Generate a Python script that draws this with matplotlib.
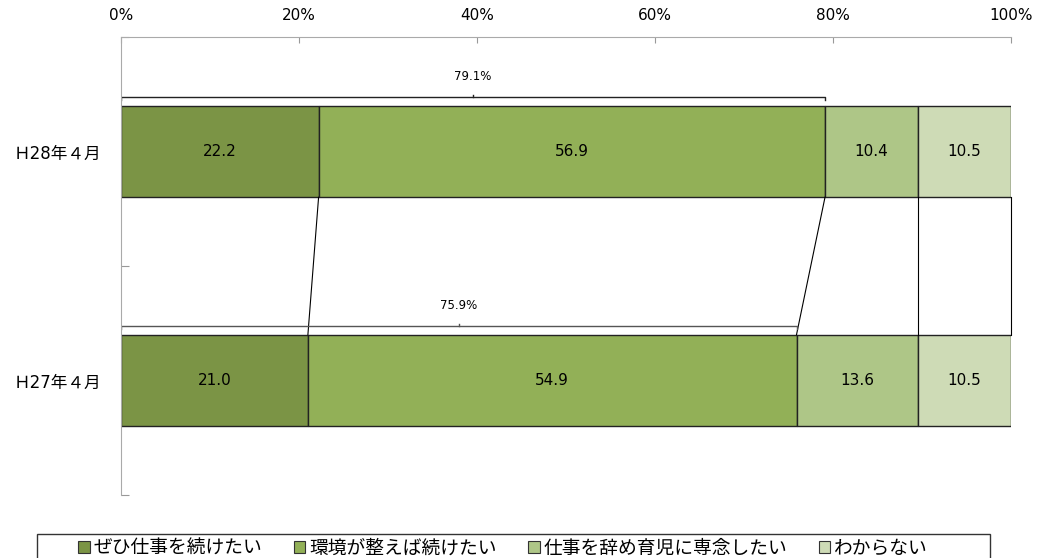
import matplotlib
matplotlib.use('Agg')
import matplotlib.pyplot as plt
from matplotlib.patches import Patch, Rectangle
import numpy as np

plt.rcParams['font.family'] = ['DejaVu Sans', 'Noto Sans CJK JP']

# 調査時点ごとの回答割合 (%)
categorias = ['Ｈ28年４月', 'Ｈ27年４月']
zehi = [22.2, 21.0]
kankyo = [56.9, 54.9]
yameru = [10.4, 13.6]
wakaranai = [10.5, 10.5]
nomes = ['ぜひ仕事を続けたい', '環境が整えば続けたい', '仕事を辞め育児に専念したい', 'わからない']
cores = ['#7B9445', '#92B057', '#AEC687', '#CEDBB6']
xticks = [0, 20, 40, 60, 80, 100]

series = [zehi, kankyo, yameru, wakaranai]
fig = plt.figure(figsize=(10.37, 5.58), dpi=100)
ax = fig.add_axes([121/1037, 1 - 495/558, 890/1037, 458/558])

y = np.arange(len(categorias))
h = 0.4
esq = np.zeros(len(categorias))
for vals, nome, cor in zip(series, nomes, cores):
    vals = np.array(vals)
    ax.barh(y, vals, left=esq, height=h, color=cor, edgecolor='#222222',
            linewidth=1.0, label=nome)
    for yi, l, v in zip(y, esq, vals):
        ax.text(l + v / 2, yi, f'{v:.1f}', ha='center', va='center', fontsize=11)
    esq = esq + vals

# linhas de ligação entre as barras
cum = np.cumsum(np.array(series), axis=0)
for c in cum:
    ax.plot([c[0], c[1]], [y[0] + h / 2, y[1] - h / 2], color='black', lw=0.8,
            clip_on=False)

# chave com o total "continuar" acima de cada barra
total = np.array(zehi) + np.array(kankyo)
for yi, t, cor in zip(y, total, ['#222222', '#555555']):
    yb = yi - h / 2 - 0.038
    ax.plot([0, 0, t, t], [yb + 0.012, yb, yb, yb + 0.012], color=cor, lw=1.0)
    ax.plot([t / 2, t / 2], [yb, yb - 0.01], color=cor, lw=1.0)
    ax.text(t / 2, yb - 0.088, f'{t:.1f}%', ha='center', va='center', fontsize=8.5)

ax.set_xlim(0, 100)
ax.set_ylim(1.5, -0.5)
ax.xaxis.tick_top()
ax.set_xticks(xticks)
ax.set_xticklabels([f'{v}%' for v in xticks], fontsize=11)
ax.tick_params(axis='x', direction='in', length=4, color='#999999', pad=10)

ax.set_yticks([-0.5, 0.5, 1.5])
ax.set_yticklabels([])
ax.set_yticks(y, minor=True)
ax.set_yticklabels(categorias, minor=True, fontsize=12)
ax.tick_params(axis='y', which='major', direction='in', length=6, color='#999999')
ax.tick_params(axis='y', which='minor', length=0, pad=14)

ax.spines['bottom'].set_visible(False)
ax.spines['right'].set_visible(False)
ax.spines['top'].set_color('#aaaaaa')
ax.spines['left'].set_color('#aaaaaa')

# legenda centrada dentro de uma caixa larga
fig.add_artist(Rectangle((37/1037, -0.02), 953/1037, 0.02 + 1 - 534/558,
                         transform=fig.transFigure, facecolor='white',
                         edgecolor='#333333', linewidth=1.0))
handles = [Patch(facecolor=c, edgecolor='#333333', linewidth=0.8) for c in cores]
leg = fig.legend(handles, nomes, loc='center', bbox_to_anchor=(503/1037, 1 - 548/558),
                 ncol=4, fontsize=13.5, frameon=False, handlelength=0.6,
                 handleheight=0.6, handletextpad=0.2, columnspacing=1.7)

fig.savefig('out.png', dpi=100)
